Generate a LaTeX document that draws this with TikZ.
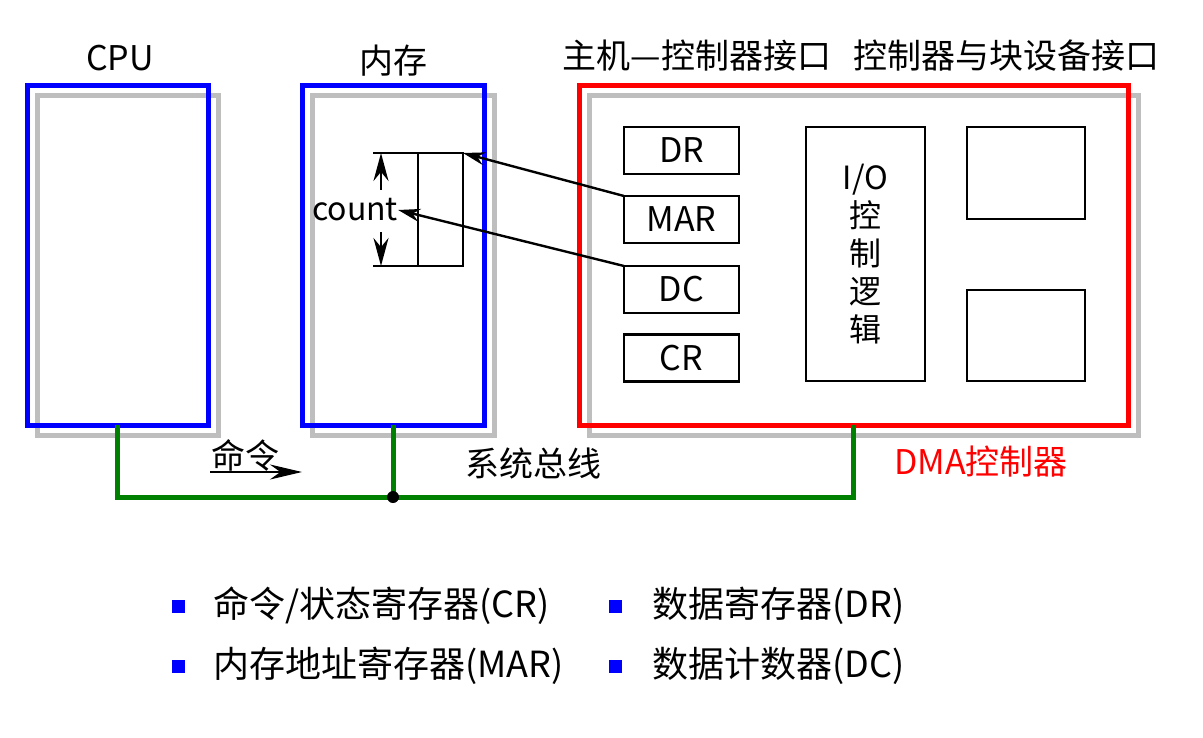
\documentclass[tikz,border=0pt]{standalone}
\usepackage{fontspec}
\setmainfont{Noto Sans CJK SC}
\usetikzlibrary{arrows.meta,backgrounds}
\definecolor{bblue}{RGB}{0,0,255}
\definecolor{rred}{RGB}{255,0,0}
\definecolor{ggreen}{RGB}{0,128,0}
\definecolor{sgray}{RGB}{190,190,190}
\tikzset{
  bigbox/.style={draw, line width=5pt, minimum width=#1, inner sep=0pt, outer sep=0pt},
  regbox/.style={draw=black, line width=2.4pt, fill=white, inner sep=0pt, outer sep=0pt, minimum width=115pt, minimum height=47pt, font=\fontsize{34}{36}\selectfont},
  lbl/.style={inner sep=0pt, font=\fontsize{34}{36}\selectfont},
  leg/.style={inner sep=0pt, anchor=west, font=\fontsize{36}{40}\selectfont},
  sq/.style={fill=bblue, minimum size=13pt, inner sep=0pt},
  arr/.style={line width=2.4pt, -{Stealth[length=22pt,width=13pt]}},
  bigarr/.style={line width=2.4pt, -{Stealth[length=28pt,width=15pt]}},
  bus/.style={draw=ggreen, line width=5pt},
  shadowbox/.style={draw=sgray, line width=5pt}
}
\begin{document}
\begin{tikzpicture}[x=1pt,y=-1pt]
\useasboundingbox (0,0) rectangle (1203,737);
% main boxes
\node[bigbox=181pt, draw=bblue, minimum height=340pt] (cpu) at (117.5,255) {};
\node[bigbox=182pt, draw=bblue, minimum height=340pt] (mem) at (393,255) {};
\node[bigbox=549pt, draw=rred, minimum height=340pt] (dma) at (853.5,255) {};
\begin{scope}[on background layer]
  \foreach \b in {cpu,mem,dma}{
    \draw[shadowbox] ([shift={(10,10)}]\b.north west) rectangle ([shift={(10,10)}]\b.south east);
  }
\end{scope}
% titles
\node[lbl] (tcpu) at (120,58) {CPU};
\node[lbl] (tmem) at (393,61) {内存};
\node[lbl] (thost) at (697,56) {主机—控制器接口};
\node[lbl] (tdev) at (1006,56) {控制器与块设备接口};
% registers in DMA
\node[regbox] (dr)  at (681.5,150.5) {DR};
\node[regbox] (mar) at (681.5,219.5) {MAR};
\node[regbox] (dc)  at (681.5,289.5) {DC};
\node[regbox] (cr)  at (681.5,358) {CR};
\node[regbox, minimum width=119pt, minimum height=254pt, align=center, font=\fontsize{32}{38}\selectfont] (io) at (865.5,254) {I/O\\控\\制\\逻\\辑};
\node[regbox, minimum width=118pt, minimum height=92pt] (dev1) at (1026,173) {};
\node[regbox, minimum width=118pt, minimum height=91pt] (dev2) at (1026,335.5) {};
% memory register
\node[minimum width=90pt, minimum height=113pt, inner sep=0pt, outer sep=0pt] (reg) at (418,209.5) {};
\draw[line width=2.4pt] (reg.north west) -- (reg.north east) -- (reg.south east) -- (reg.south west);
\draw[line width=2.4pt] (reg.north) -- (reg.south);
\node[lbl, font=\fontsize{32}{34}\selectfont] (count) at (355,210) {count};
\coordinate (cu1) at (381,190);
\coordinate (cu2) at (381,153);
\coordinate (cd1) at (381,232);
\coordinate (cd2) at (381,266);
\draw[bigarr] (cu1) -- (cu2);
\draw[bigarr] (cd1) -- (cd2);
\draw[arr] (mar.north west) -- (reg.north east);
\draw[arr] (dc.north west) -- (count.east);
% bus
\coordinate (junc) at (393,497);
\draw[bus] (cpu.south) |- (junc) -| (dma.south);
\draw[bus] (mem.south) -- (junc);
\fill (junc) circle (6pt);
\node[lbl] (cmd) at (245,455) {命令};
\coordinate (ca) at (210,472);
\coordinate (cb) at (302,472);
\draw[line width=2.4pt, -{Stealth[length=32pt,width=15pt]}] (ca) -- (cb);
\node[lbl] (sysbus) at (533,463) {系统总线};
\node[lbl, text=rred] (dmalbl) at (981,462) {DMA控制器};
% legend
\node[sq] (s1) at (178,606) {};
\node[leg] (l1) at (213,606) {命令/状态寄存器(CR)};
\node[sq] (s2) at (178,666) {};
\node[leg] (l2) at (213,666) {内存地址寄存器(MAR)};
\node[sq] (s3) at (615,606) {};
\node[leg] (l3) at (652,606) {数据寄存器(DR)};
\node[sq] (s4) at (615,666) {};
\node[leg] (l4) at (652,666) {数据计数器(DC)};
\end{tikzpicture}
\end{document}
